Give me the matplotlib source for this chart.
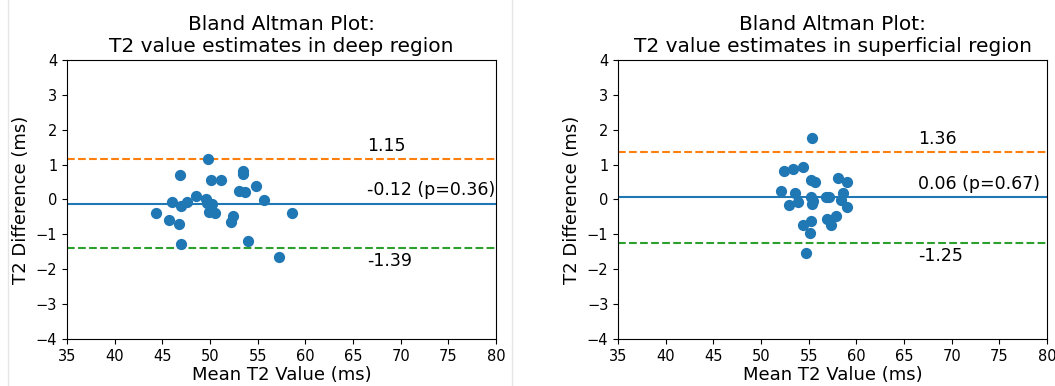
import matplotlib
matplotlib.use('Agg')
import matplotlib.pyplot as plt
from matplotlib.lines import Line2D
import numpy as np

# 深层区域: 两次测量的均值与差值
deep_mean = np.array([49.83, 46.86, 50.08, 51.13, 53.50, 53.43, 54.83, 53.08, 53.71, 48.50,
                      55.67, 45.98, 47.55, 46.93, 49.60, 49.66, 50.20, 49.90, 50.53, 44.34,
                      45.73, 46.78, 52.45, 52.20, 58.58, 47.00, 54.03, 57.28])
deep_diff = np.array([1.16, 0.69, 0.55, 0.57, 0.81, 0.73, 0.40, 0.24, 0.22, 0.11,
                      -0.01, -0.06, -0.08, -0.19, 0.02, -0.10, -0.14, -0.36, -0.40, -0.38,
                      -0.60, -0.71, -0.46, -0.65, -0.38, -1.29, -1.19, -1.64])
# 浅层区域
sup_mean = np.array([55.32, 52.42, 53.40, 54.38, 55.25, 55.71, 58.05, 58.99, 52.10, 53.57,
                     58.64, 55.25, 56.79, 57.17, 52.94, 53.92, 55.50, 55.32, 58.36, 58.99,
                     57.87, 56.90, 57.35, 55.22, 54.38, 55.15, 54.69])
sup_diff = np.array([1.75, 0.83, 0.86, 0.93, 0.57, 0.51, 0.61, 0.51, 0.23, 0.19,
                     0.20, 0.08, 0.07, 0.07, -0.15, -0.06, -0.05, -0.14, -0.02, -0.21,
                     -0.48, -0.55, -0.74, -0.62, -0.74, -0.97, -1.54])

# 均值线, 上下一致性界限, p值
deep_lines = (-0.12, 1.15, -1.39, 0.36)
sup_lines = (0.06, 1.36, -1.25, 0.67)
titles = ['Bland Altman Plot:\nT2 value estimates in deep region',
          'Bland Altman Plot:\nT2 value estimates in superficial region']

fig = plt.figure(figsize=(10.55, 3.86), dpi=100)
ax1 = fig.add_axes([0.0635, 0.1218, 0.4066, 0.7228])
ax2 = fig.add_axes([0.5858, 0.1218, 0.4066, 0.7228])

for ax, mx, dy, ln, t in [(ax1, deep_mean, deep_diff, deep_lines, titles[0]),
                          (ax2, sup_mean, sup_diff, sup_lines, titles[1])]:
    md, up, lo, p = ln
    ax.scatter(mx, dy, s=50, color='C0', zorder=3)
    ax.axhline(md, color='C0', lw=1.5)
    ax.axhline(up, color='C1', ls='--', lw=1.5)
    ax.axhline(lo, color='C2', ls='--', lw=1.5)
    ax.text(66.5, up + 0.12, '%.2f' % up, fontsize=12.5, va='bottom')
    ax.text(66.5, md + 0.12, '%.2f (p=%.2f)' % (md, p), fontsize=12.5, va='bottom')
    ax.text(66.5, lo - 0.12, '%.2f' % lo, fontsize=12.5, va='top')
    ax.set_xlim(35, 80)
    ax.set_ylim(-4, 4)
    ax.set_xticks(np.arange(35, 81, 5))
    ax.set_yticks(np.arange(-4, 5, 1))
    ax.tick_params(labelsize=10.5)
    ax.set_xlabel('Mean T2 Value (ms)', fontsize=13, labelpad=2)
    ax.set_ylabel('T2 Difference (ms)', fontsize=13)
    ax.set_title(t, fontsize=14.5)

# 截图里的淡灰色竖线
fig.add_artist(Line2D([8 / 1055, 8 / 1055], [0, 1], color='#e6e6e6', lw=1))
fig.add_artist(Line2D([512 / 1055, 512 / 1055], [0, 1], color='#e6e6e6', lw=1))

plt.savefig('out.png', dpi=100)
